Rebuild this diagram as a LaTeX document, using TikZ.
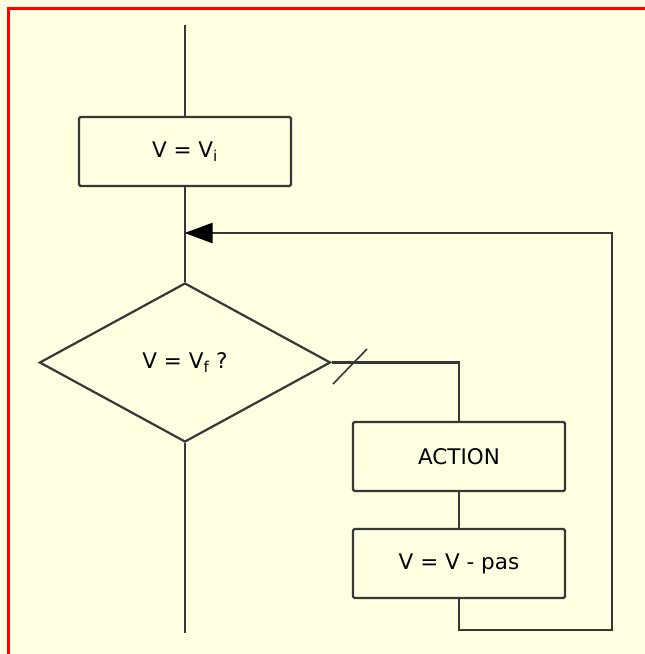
\documentclass[tikz,border=0pt]{standalone}
\usepackage{fontspec}
\setmainfont{DejaVu Sans}
\usetikzlibrary{shapes.geometric,arrows.meta}
\definecolor{bgyellow}{RGB}{255,255,226}
\definecolor{linegray}{RGB}{55,55,55}
\tikzset{
  flow/.style={draw=linegray, line width=2.2pt},
  procbox/.style={flow, rectangle, rounded corners=1.5pt, minimum width=212pt, minimum height=69pt, inner sep=0pt, font=\fontsize{21.5}{24}\selectfont},
  testbox/.style={flow, diamond, minimum width=291pt, minimum height=159pt, inner sep=0pt, font=\fontsize{21.5}{24}\selectfont},
  backarrow/.style={flow, -{Triangle[length=28pt,width=20pt,black]}, shorten >=-0.5pt},
}
\begin{document}
\begin{tikzpicture}[x=1pt,y=-1pt]
  \useasboundingbox (0,0) rectangle (645,654);
  \fill[bgyellow] (0,0) rectangle (645,654);
  \draw[red, line width=3pt] (8,654) -- (8,8) -- (645,8);

  \node[procbox] (vi) at (185,151.5) {V = V\textsubscript{i}};
  \node[testbox] (test) at (185,362.5) {V = V\textsubscript{f} ?};
  \node[procbox] (act) at (459,456.5) {ACTION};
  \node[procbox] (dec) at (459,563.5) {V = V - pas};

  \coordinate (top) at (185,25);
  \coordinate (bottom) at (185,633);
  \coordinate (join) at (185,233);
  \coordinate (tr) at (612,233);
  \coordinate (br) at (612,630);
  \coordinate (bl) at (459,630);
  \coordinate (rr) at (459,362.5);
  \coordinate (s1) at (333,384);
  \coordinate (s2) at (367,349);

  \draw[flow] (top) -- (vi.north);
  \draw[flow] (vi.south) -- (test.north);
  \draw[flow] (test.south) -- (bottom);
  \draw[flow] (test.east) -- (rr) -- (act.north);
  \draw[flow, line width=1.6pt] (s1) -- (s2);
  \draw[flow] (act.south) -- (dec.north);
  \draw[backarrow] (dec.south) -- (bl) -- (br) -- (tr) -- (join);
\end{tikzpicture}
\end{document}
